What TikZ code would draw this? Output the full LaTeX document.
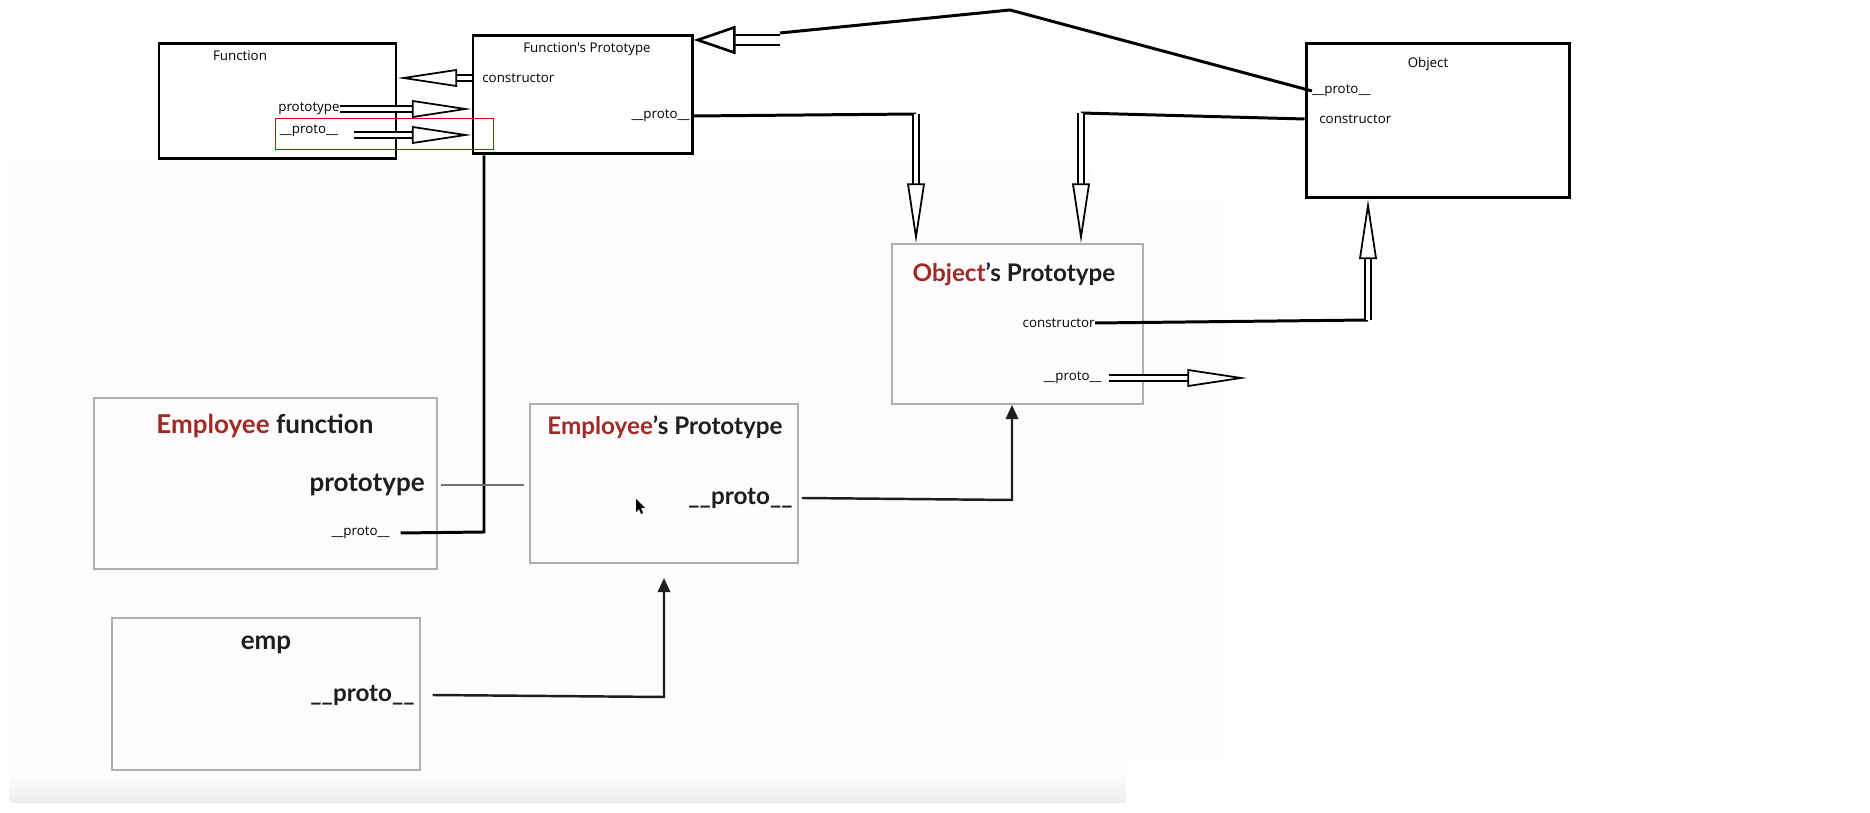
\documentclass[tikz,border=0pt]{standalone}
\usepackage{fontspec}
\newfontfamily\paintfont{Open Sans}
\newfontfamily\latofont{Lato}
\usetikzlibrary{positioning,fit,arrows.meta}
\definecolor{empred}{RGB}{160,42,36}
\definecolor{shotink}{RGB}{30,30,30}
\definecolor{shotline}{RGB}{176,176,176}
\definecolor{panel}{RGB}{254,252,254}
\definecolor{panelfoot}{RGB}{238,237,240}
\tikzset{
  paint box/.style={draw,line width=1.7pt,inner sep=0pt},
  shot box/.style={draw=shotline,line width=1.1pt,inner sep=0pt},
  mark box/.style={draw=red!85!black,line width=0.5pt,inner sep=0pt},
  paint text/.style={font=\paintfont\fontsize{7.6}{9}\selectfont,inner sep=0pt},
  shot text/.style={font=\latofont\bfseries\fontsize{13.8}{16}\selectfont,text=shotink,inner sep=0pt},
  big shot text/.style={shot text,font=\latofont\bfseries\fontsize{14.8}{17}\selectfont},
  paint link/.style={line width=1.7pt},
  grey link/.style={draw=black!55,line width=1.1pt},
  hollow/.style={line width=1pt,double=white,double distance=2.5pt,-{Triangle[open,length=34pt,width=10pt]}},
  block/.style={line width=1.5pt,double=white,double distance=4pt,-{Triangle[open,length=24pt,width=16pt]}},
  shot link/.style={draw=shotink,line width=1.4pt,-{Triangle[length=8pt,width=7pt]}}
}
\begin{document}
\begin{tikzpicture}[x=0.02cm,y=-0.02cm]
\useasboundingbox (0,0) rectangle (1870,813);
% screenshot behind
\fill[panel] (9,163) -- (1092,163) -- (1092,202) -- (1227,202) -- (1227,762) -- (1126,762) -- (1126,803) -- (9,803) -- cycle;
\shade[top color=panel,bottom color=panelfoot] (9,772) rectangle (1126,803);

% boxes
\node[paint box,fit={(159,44) (396,159)}] (function) {};
\node[paint box,fit={(473,36) (692,154)}] (fnproto) {};
\node[paint box,fit={(1306,44) (1569,198)}] (object) {};
\node[shot box,fit={(892,244) (1143,404)}] (objproto) {};
\node[shot box,fit={(94,398) (437,569)}] (empfn) {};
\node[shot box,fit={(530,404) (798,563)}] (empproto) {};
\node[shot box,fit={(112,618) (420,770)}] (emp) {};
\node[mark box,fit={(275,118) (493,149)}] (mark) {};

% paint labels
\node[paint text] (fnlabel) at (240,56) {Function};
\node[paint text,anchor=east] (fnprot) at (340,109) {prototype};
\node[paint text] (fnpp) at (309,131) {\_\_proto\_\_};
\node[paint text] (fplabel) at (587,49) {Function's Prototype};
\node[paint text,anchor=west] (fpcons) at (482,78) {constructor};
\node[paint text,anchor=east] (fppp) at (690,116) {\_\_proto\_\_};
\node[paint text] (objlabel) at (1428,64) {Object};
\node[paint text,anchor=west] (objpp) at (1312,91) {\_\_proto\_\_};
\node[paint text,anchor=west] (objcons) at (1319,119) {constructor};
\node[paint text,anchor=east] (opcons) at (1095,323) {constructor};
\node[paint text,anchor=east] (oppp) at (1102,378) {\_\_proto\_\_};
\node[paint text,anchor=east] (efpp) at (390,533) {\_\_proto\_\_};

% screenshot labels
\node[big shot text] (eftitle) at (265,426) {\textcolor{empred}{Employee} function};
\node[big shot text,anchor=east] (efprot) at (425,485) {prototype};
\node[shot text] (eptitle) at (665,427) {\textcolor{empred}{Employee}’s Prototype};
\node[shot text,anchor=east] (eppp) at (793,498) {\_\_proto\_\_};
\node[shot text] (optitle) at (1014,274) {\textcolor{empred}{Object}’s Prototype};
\node[big shot text] (emplabel) at (266,645) {emp};
\node[shot text,anchor=east] (emppp) at (415,695) {\_\_proto\_\_};

% bend points
\coordinate (fnppout) at (354,135);
\coordinate (peak) at (1010,10);
\coordinate (blocktop) at (780,33);
\coordinate (blocktail) at (780,40);
\coordinate (fpbend) at (916,114);
\coordinate (objbend) at (1081,113);
\coordinate (opbend) at (1368,320);
\coordinate (nullend) at (1247,378);
\coordinate (efbend) at (484,532);
\coordinate (epbend) at (1012,500);
\coordinate (empbend) at (664,697);

% paint arrows
\draw[hollow] (fnproto.west |- fpcons) -- (function.east |- fpcons);
\draw[hollow] (fnprot.east) -- (fnproto.west |- fnprot.east);
\draw[hollow] (fnppout) -- (fnproto.west |- fnppout);
\draw[paint link] (objpp.west) -- (peak) -- (blocktop);
\draw[block] (blocktail) -- (fnproto.east |- blocktail);
\draw[paint link] (fnproto.east |- fppp) -- (fpbend);
\draw[hollow] (fpbend) -- (fpbend |- objproto.north);
\draw[paint link] (object.west |- objcons) -- (objbend);
\draw[hollow] (objbend) -- (objbend |- objproto.north);
\draw[paint link] (opcons.east) -- (opbend);
\draw[hollow] (opbend) -- (opbend |- object.south);
\draw[hollow] ([xshift=4pt]oppp.east) -- (nullend);
\draw[paint link] ([xshift=6pt]efpp.east) -- (efbend) -- (efbend |- fnproto.south);

% screenshot arrows
\draw[grey link] ([xshift=9pt]efprot.east) -- ([xshift=-3pt]empproto.west |- efprot.east);
\draw[shot link] ([xshift=5pt]eppp.east) -- (epbend) -- (epbend |- objproto.south);
\draw[shot link] ([xshift=10pt]emppp.east) -- (empbend) -- ([yshift=-8pt]empbend |- empproto.south);

% mouse pointer
\fill (636,499) -- (636,512) -- (639,509) -- (641,514) -- (643,513) -- (641,508) -- (645,508) -- cycle;
\end{tikzpicture}
\end{document}
